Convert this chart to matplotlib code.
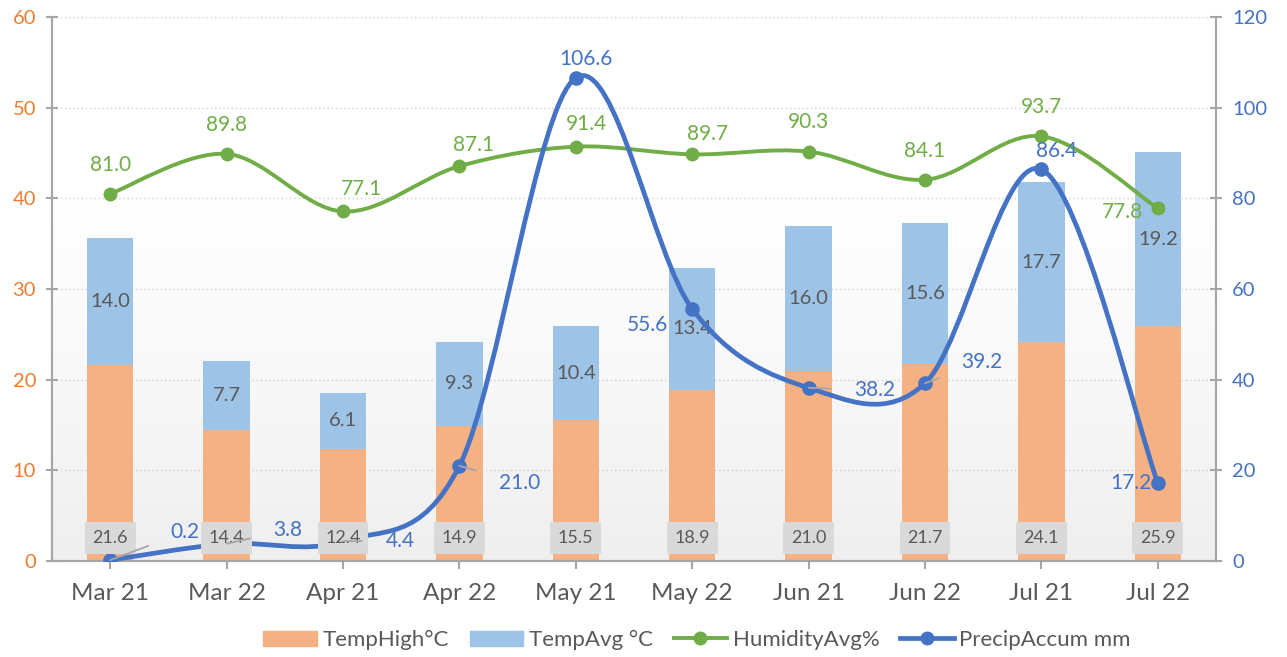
import numpy as np
import matplotlib
matplotlib.use("Agg")
import matplotlib.pyplot as plt
from matplotlib.path import Path
from matplotlib.patches import PathPatch, Patch
from matplotlib.lines import Line2D
from matplotlib.colors import LinearSegmentedColormap

plt.rcParams["font.family"] = ["Lato", "DejaVu Sans"]

months = ["Mar 21", "Mar 22", "Apr 21", "Apr 22", "May 21",
          "May 22", "Jun 21", "Jun 22", "Jul 21", "Jul 22"]
temp_high = [21.6, 14.4, 12.4, 14.9, 15.5, 18.9, 21.0, 21.7, 24.1, 25.9]
temp_avg = [14.0, 7.7, 6.1, 9.3, 10.4, 13.4, 16.0, 15.6, 17.7, 19.2]
humidity = [81.0, 89.8, 77.1, 87.1, 91.4, 89.7, 90.3, 84.1, 93.7, 77.8]
precip = [0.2, 3.8, 4.4, 21.0, 106.6, 55.6, 38.2, 39.2, 86.4, 17.2]

# label offsets in pixels (dx, dy) relative to the point
hum_offsets = [(0, 29), (0, 29), (19, 22), (14, 21), (11, 23),
               (15, 20), (0, 30), (0, 29), (0, 29), (-35, -4)]
pre_offsets = [(75, 28), (61, 14), (57, 0), (60, -17), (10, 19),
               (-45, -16), (66, -2), (57, 21), (15, 18), (-27, 0)]
pre_leader = [True, True, True, True, False, False, True, True, False, False]

ORANGE = "#F4B183"
LBLUE = "#9DC3E6"
GREEN = "#70AD47"
BLUE = "#4472C4"
GRAY = "#595959"


def smooth_path(xs, ys):
    # Excel-style smoothed line: cubic bezier through the points
    pts = np.column_stack([xs, ys]).astype(float)
    n = len(pts)
    verts = [pts[0]]
    codes = [Path.MOVETO]
    for i in range(n - 1):
        p0 = pts[i - 1] if i > 0 else pts[i]
        p1 = pts[i]
        p2 = pts[i + 1]
        p3 = pts[i + 2] if i + 2 < n else pts[i + 1]
        c1 = p1 + (p2 - p0) / 6.0
        c2 = p2 - (p3 - p1) / 6.0
        verts += [c1, c2, p2]
        codes += [Path.CURVE4] * 3
    return Path(verts, codes)


fig = plt.figure(figsize=(12.87, 6.57), dpi=100)
ax = fig.add_axes([52 / 1287, 1 - 561 / 657, (1216 - 52) / 1287, (561 - 17) / 657])
ax2 = ax.twinx()

# gradient background
grad = np.linspace(0, 1, 256).reshape(-1, 1)
cmap = LinearSegmentedColormap.from_list("bg", ["#EFEFEF", "#F8F8F8", "#FFFFFF", "#FFFFFF"])
ax.imshow(grad, extent=[-0.5, 9.5, 0, 60], aspect="auto", cmap=cmap, origin="lower", zorder=0)

x = np.arange(len(months))
ax.bar(x, temp_high, width=0.4, color=ORANGE, zorder=2)
ax.bar(x, temp_avg, width=0.4, bottom=temp_high, color=LBLUE, zorder=2)

ax.set_xlim(-0.5, 9.5)
ax.set_ylim(0, 60)
ax2.set_ylim(0, 120)
ax.set_yticks(range(0, 61, 10))
ax2.set_yticks(range(0, 121, 20))
ax.set_xticks(x)
ax.set_xticklabels(months)
ax.grid(axis="y", color="#D0D0D0", linestyle=(0, (1, 2)), linewidth=1, zorder=1)
ax.set_axisbelow(True)

for a in (ax, ax2):
    for s in a.spines.values():
        s.set_color("#A6A6A6")
        s.set_linewidth(1.5)
    a.spines["top"].set_visible(False)
ax.tick_params(axis="y", colors="#A6A6A6", labelcolor="#ED7D31", labelsize=14.5,
               direction="inout", length=9, width=1.5, pad=7)
ax2.tick_params(axis="y", colors="#A6A6A6", labelcolor=BLUE, labelsize=14.5,
                direction="inout", length=9, width=1.5, pad=7)
ax.tick_params(axis="x", colors="#A6A6A6", labelcolor=GRAY, labelsize=17.5,
               direction="out", length=6, width=1.5, pad=10)

# lines on secondary axis
ax2.add_patch(PathPatch(smooth_path(x, humidity), fc="none", ec=GREEN, lw=2.8,
                        capstyle="round", zorder=4))
ax2.plot(x, humidity, "o", color=GREEN, ms=9, zorder=5)
ax2.add_patch(PathPatch(smooth_path(x, precip), fc="none", ec=BLUE, lw=3.4,
                        capstyle="round", zorder=6))
ax2.plot(x, precip, "o", color=BLUE, ms=9.5, zorder=7)

# bar labels
for xi, h, a in zip(x, temp_high, temp_avg):
    ax2.annotate(f"{h:.1f}", (xi, 0), xytext=(0, 23), textcoords="offset pixels",
                 ha="center", va="center", fontsize=13, color=GRAY, zorder=9,
                 bbox=dict(boxstyle="square,pad=0.42", fc="#D9D9D9", ec="none"))
    ax.text(xi, h + a / 2, f"{a:.1f}", ha="center", va="center",
            fontsize=14.5, color=GRAY, zorder=3)

for xi, v, (dx, dy) in zip(x, humidity, hum_offsets):
    ax2.annotate(f"{v:.1f}", (xi, v), xytext=(dx, dy), textcoords="offset pixels",
                 ha="center", va="center", fontsize=15, color=GREEN, zorder=10)
for xi, v, (dx, dy), ld in zip(x, precip, pre_offsets, pre_leader):
    kw = {}
    if ld:
        kw["arrowprops"] = dict(arrowstyle="-", color="#A6A6A6", lw=1.3,
                                shrinkA=15, shrinkB=0)
    ax2.annotate(f"{v:.1f}", (xi, v), xytext=(dx, dy), textcoords="offset pixels",
                 ha="center", va="center", fontsize=15, color=BLUE, zorder=10, **kw)

handles = [
    Patch(color=ORANGE, label="TempHigh°C"),
    Patch(color=LBLUE, label="TempAvg °C"),
    Line2D([], [], color=GREEN, lw=2.8, marker="o", ms=9, label="HumidityAvg%"),
    Line2D([], [], color=BLUE, lw=3.4, marker="o", ms=9, label="PrecipAccum mm"),
]
fig.legend(handles=handles, loc="center", bbox_to_anchor=(697 / 1287, 1 - 640 / 657),
           ncol=4, frameon=False, fontsize=16, handlelength=2.4, handleheight=0.65,
           columnspacing=0.95, handletextpad=0.25, labelcolor=GRAY)

fig.savefig("out.png", dpi=100)
